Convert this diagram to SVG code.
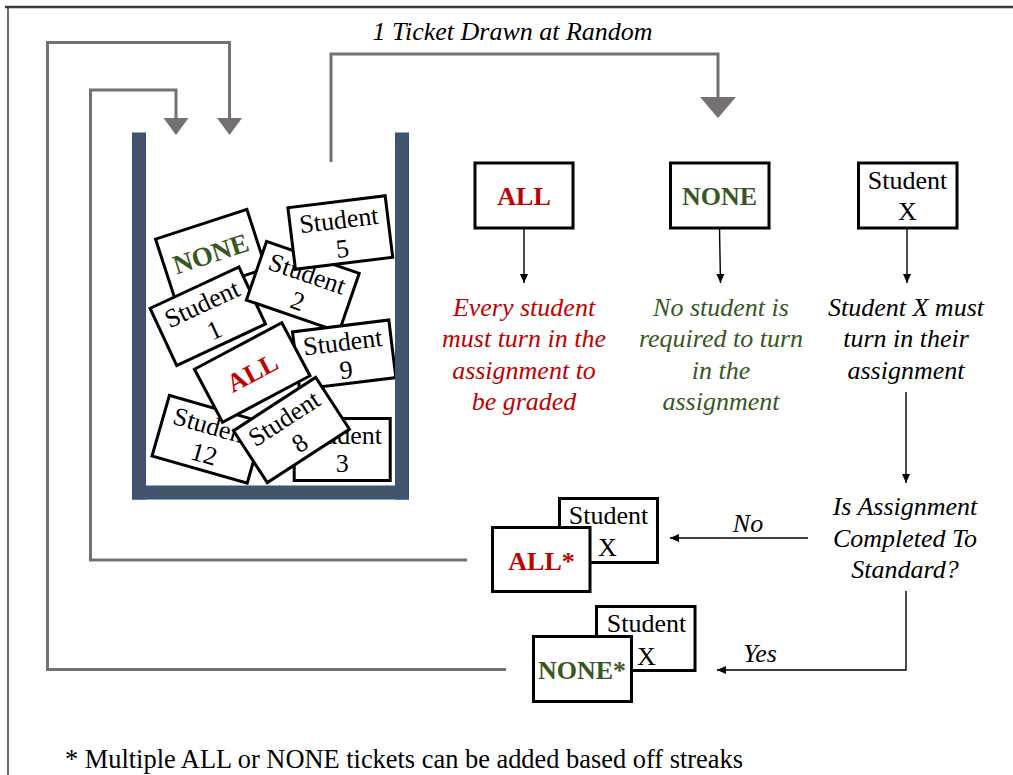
<svg xmlns="http://www.w3.org/2000/svg" width="1013" height="775" viewBox="0 0 1013 775">
<style>
.t{font-family:"Liberation Serif","Times New Roman",serif;font-size:26px;text-anchor:middle;fill:#000}
.it{font-style:italic}
.b{font-weight:bold}
.red{fill:#C00000}
.grn{fill:#385723}
.box{fill:#fff;stroke:#000;stroke-width:3}
.jar{fill:#44546A;stroke:#2F528F;stroke-width:1}
.gray{fill:none;stroke:#767171;stroke-width:3}
.thin{fill:none;stroke:#000;stroke-width:1.4}
</style>
<defs>
<marker id="ah" markerUnits="userSpaceOnUse" markerWidth="10" markerHeight="10" refX="9" refY="5" orient="auto">
<path d="M0,1 L9,5 L0,9 z" fill="#000"/>
</marker>
<marker id="gs" markerUnits="userSpaceOnUse" markerWidth="18" markerHeight="26" refX="0" refY="12.5" orient="auto">
<path d="M0,0 L17,12.5 L0,25 z" fill="#767171"/>
</marker>
<marker id="gb" markerUnits="userSpaceOnUse" markerWidth="22" markerHeight="36" refX="0" refY="18" orient="auto">
<path d="M0,0 L21,18 L0,36 z" fill="#767171"/>
</marker>
</defs>
<rect width="1013" height="775" fill="#fff"/>
<g id="frame">
<path d="M5,7 H1013" stroke="#3a3a3a" stroke-width="2.5" fill="none"/>
<path d="M8,7 V775" stroke="#3a3a3a" stroke-width="1.5" fill="none"/>
</g>
<g id="connectors">
<path class="gray" d="M506,669.5 H47.5 V42.5 H229.5 V118" marker-end="url(#gs)"/>
<path class="gray" d="M467,560 H90.5 V90 H176 V118" marker-end="url(#gs)"/>
<path class="gray" d="M331,162 V54 H718 V97" marker-end="url(#gb)"/>
<path class="thin" d="M524,228 V283" marker-end="url(#ah)"/>
<path class="thin" d="M719.5,228 L720.5,283" marker-end="url(#ah)"/>
<path class="thin" d="M907,228 V283" marker-end="url(#ah)"/>
<path class="thin" d="M906,392 V483" marker-end="url(#ah)"/>
<path class="thin" d="M808,538 H670" marker-end="url(#ah)"/>
<path class="thin" d="M906,591 V670 H717" marker-end="url(#ah)"/>
<text class="t it" x="512.5" y="40">1 Ticket Drawn at Random</text>
<text class="t it" x="748" y="532">No</text>
<text class="t it" x="760" y="662">Yes</text>
</g>
<g id="jar">
<g id="tickets">
<g id="t-none" transform="translate(210.8,253.8) rotate(-18)"><rect class="box" x="-48" y="-31" width="96" height="62"/><text class="t b grn" x="0" y="9" style="font-size:27px">NONE</text></g>
<g id="t-s1" transform="translate(207.8,316.2) rotate(-25)"><rect class="box" x="-49" y="-31.5" width="98" height="63"/><text class="t" x="0" y="-5">Student</text><text class="t" x="0" y="24">1</text></g>
<g id="t-s2" transform="translate(302.8,286.7) rotate(19)"><rect class="box" x="-49" y="-31" width="98" height="62"/><text class="t" x="0" y="-5">Student</text><text class="t" x="0" y="24">2</text></g>
<g id="t-s5" transform="translate(340.3,232.5) rotate(-7)"><rect class="box" x="-49" y="-31" width="98" height="62"/><text class="t" x="0" y="-4">Student</text><text class="t" x="0" y="25">5</text></g>
<g id="t-s9" transform="translate(344.2,354.7) rotate(-7)"><rect class="box" x="-48.5" y="-29" width="97" height="58"/><text class="t" x="0" y="-4">Student</text><text class="t" x="0" y="24">9</text></g>
<g id="t-s12" transform="translate(208.3,439.3) rotate(16)"><rect class="box" x="-49.5" y="-31.5" width="99" height="63"/><text class="t" x="0" y="-5">Student</text><text class="t" x="0" y="24">12</text></g>
<g id="t-s3" transform="translate(342.2,449.5)"><rect class="box" x="-48" y="-31" width="96" height="62"/><text class="t" x="0" y="-6">Student</text><text class="t" x="0" y="22">3</text></g>
<g id="t-all" transform="translate(252.2,372.5) rotate(-28)"><rect class="box" x="-49.5" y="-30" width="99" height="60"/><text class="t b red" x="0" y="9">ALL</text></g>
<g id="t-s8" transform="translate(291.5,430) rotate(-33)"><rect class="box" x="-49" y="-31" width="98" height="62"/><text class="t" x="0" y="-5">Student</text><text class="t" x="0" y="24">8</text></g>
</g>
<rect class="jar" x="132.5" y="133" width="13" height="366"/>
<rect class="jar" x="395.5" y="133" width="13" height="366"/>
<rect class="jar" x="132.5" y="486" width="276" height="13"/>
</g>
<g id="n-all">
<rect class="box" x="475" y="163" width="98" height="65"/>
<text class="t b red" x="524" y="205">ALL</text>
</g>
<g id="n-none">
<rect class="box" x="670.5" y="163" width="98.5" height="65"/>
<text class="t b grn" x="719.5" y="205">NONE</text>
</g>
<g id="n-studentx">
<rect class="box" x="858.5" y="163" width="98.5" height="65"/>
<text class="t" x="907.5" y="189">Student</text>
<text class="t" x="907.5" y="220">X</text>
</g>
<g id="r-all">
<text class="t it red" x="524" y="315.5">Every student</text>
<text class="t it red" x="524" y="347">must turn in the</text>
<text class="t it red" x="524" y="378.5">assignment to</text>
<text class="t it red" x="524" y="410">be graded</text>
</g>
<g id="r-none">
<text class="t it grn" x="721" y="315.5">No student is</text>
<text class="t it grn" x="721" y="347">required to turn</text>
<text class="t it grn" x="721" y="378.5">in the</text>
<text class="t it grn" x="721" y="410">assignment</text>
</g>
<g id="r-studentx">
<text class="t it" x="906" y="315.5">Student X must</text>
<text class="t it" x="906" y="347">turn in their</text>
<text class="t it" x="906" y="378.5">assignment</text>
</g>
<g id="decision">
<text class="t it" x="905" y="515">Is Assignment</text>
<text class="t it" x="905" y="546.7">Completed To</text>
<text class="t it" x="905" y="578.3">Standard?</text>
</g>
<g id="n-allstar">
<rect class="box" x="559.5" y="498.5" width="98" height="64"/>
<text class="t" x="608.5" y="523.5">Student</text>
<text class="t" x="607.5" y="556">X</text>
<rect class="box" x="492.5" y="527.5" width="97.5" height="64"/>
<text class="t b red" x="541.5" y="570">ALL*</text>
</g>
<g id="n-nonestar">
<rect class="box" x="596.5" y="606.5" width="98.5" height="64"/>
<text class="t" x="646.5" y="631.7">Student</text>
<text class="t" x="646.5" y="665">X</text>
<rect class="box" x="533.5" y="636.5" width="98" height="65"/>
<text class="t b grn" x="582" y="678.5">NONE*</text>
</g>
<g id="note">
<text class="t" x="65" y="768" style="text-anchor:start;font-size:26.4px">* Multiple ALL or NONE tickets can be added based off streaks</text>
</g>
</svg>
